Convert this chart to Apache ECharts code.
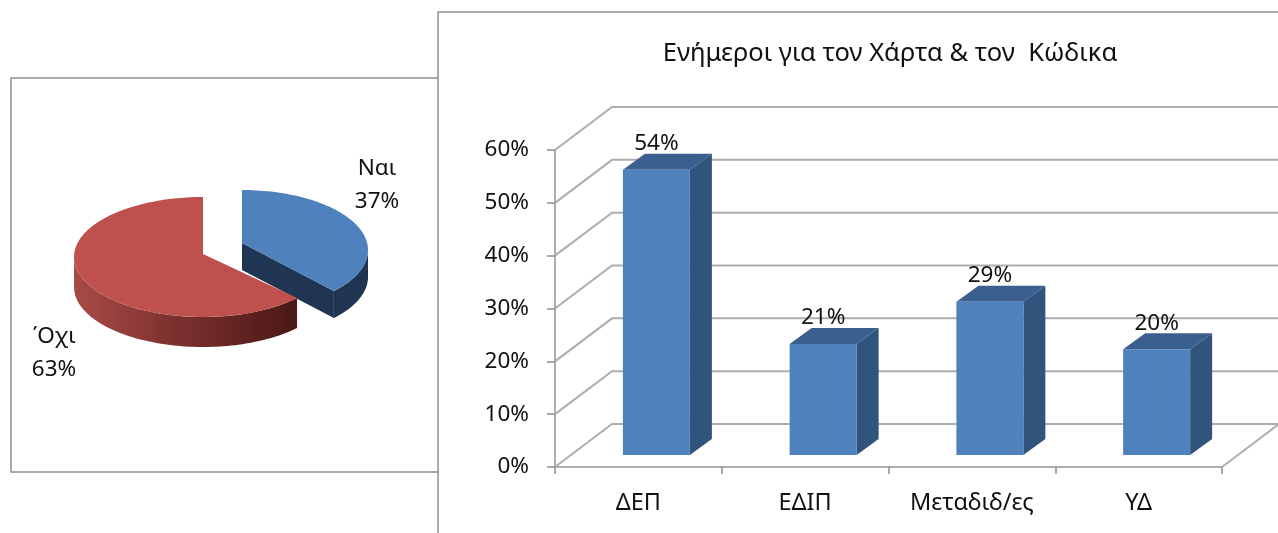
<!DOCTYPE html>
<html><head><meta charset="utf-8">
<style>html,body{margin:0;padding:0;background:#fff}#c{width:1278px;height:533px}</style>
<script src="https://cdn.jsdelivr.net/npm/echarts@6/dist/echarts.min.js"></script>
</head><body><div id="c"></div>
<script>
const chartTitle = 'Ενήμεροι για τον Χάρτα & τον  Κώδικα';
const categories = ['ΔΕΠ', 'ΕΔΙΠ', 'Μεταδιδ/ες', 'ΥΔ'];
const barValues = [54, 21, 29, 20];
const yTicks = [0, 10, 20, 30, 40, 50, 60];
const pieNames = ['Ναι', '΄Οχι'];
const pieValues = [37, 63];

const FONT = '"Noto Sans", "Open Sans", sans-serif';
const TXT = '#111';
const GRID = '#adadad';
// 3D projection of the bar plot
const WALL = [57, -43], FRONT = [18, -12], DEPTH = [22, -16], HALF = 33.5;
// Per-slice layout of the tilted pie
const SLICES = [
  {cx: 242, cy: 250, ax: 242, ay: 243, rx: 126, ry: 60, d: 27, top: '#4f81bd', side: '#1f3552', lx: 377, ly: 185},
  {cx: 203, cy: 257, ax: 203, ay: 254, rx: 129, ry: 60, d: 30, top: '#be504d',
   side: {type: 'linear', x: 0, y: 0, x2: 1, y2: 0, colorStops: [
     {offset: 0, color: '#a84a47'}, {offset: .45, color: '#7d312f'}, {offset: 1, color: '#4a1816'}]},
   lx: 54, ly: 353}
];

function arc(s, a0, a1, dy) {
  const pts = [], n = 80;
  for (let i = 0; i <= n; i++) {
    const t = (a0 + (a1 - a0) * i / n) * Math.PI / 180;
    pts.push([s.cx + s.rx * Math.sin(t), s.cy - s.ry * Math.cos(t) + dy]);
  }
  return pts;
}

function renderPie(params, api) {
  const i = params.dataIndex, s = SLICES[i];
  const total = pieValues.reduce((a, b) => a + b, 0);
  const before = pieValues.slice(0, i).reduce((a, b) => a + b, 0);
  const a0 = before / total * 360, a1 = (before + api.value(0)) / total * 360;
  const topPts = [[s.ax, s.ay]].concat(arc(s, a0, a1, 0));
  const children = [];
  if (i === 0) {
    const lo = arc(s, 90, a1, 0), hi = arc(s, 90, a1, s.d).reverse();
    children.push({type: 'polygon', shape: {points: lo.concat(hi)}, style: {fill: s.side}});
    const e = arc(s, a1, a1, 0)[0];
    children.push({type: 'polygon', shape: {points: [[s.ax, s.ay], e, [e[0], e[1] + s.d], [s.ax, s.ay + s.d]]}, style: {fill: s.side}});
  } else {
    const lo = arc(s, a0, 270, 0), hi = arc(s, a0, 270, s.d).reverse();
    children.push({type: 'polygon', shape: {points: lo.concat(hi)}, style: {fill: s.side}});
  }
  children.push({type: 'polygon', shape: {points: topPts}, style: {fill: s.top}});
  children.push({type: 'text', style: {
    x: s.lx, y: s.ly, text: pieNames[i] + '\n' + api.value(0) + '%',
    align: 'center', verticalAlign: 'middle', fill: TXT, font: '22.5px ' + FONT, lineHeight: 33
  }});
  return {type: 'group', children};
}

function renderWall(params, api) {
  const y = api.coord([0, api.value(1)])[1];
  const r = params.coordSys, x0 = r.x, x1 = r.x + r.width;
  const line = pts => ({type: 'polyline', shape: {points: pts}, style: {stroke: GRID, lineWidth: 2, fill: 'none'}});
  const children = [line([[x0, y], [x0 + WALL[0], y + WALL[1]], [x1 + WALL[0], y + WALL[1]]])];
  if (api.value(1) === yTicks[0]) children.push(line([[x1, y], [x1 + WALL[0], y + WALL[1]]]));
  return {type: 'group', children};
}

function renderBar(params, api) {
  const base = api.coord([api.value(0), 0]), tip = api.coord([api.value(0), api.value(1)]);
  const xl = base[0] + FRONT[0] - HALF, xr = base[0] + FRONT[0] + HALF;
  const yb = base[1] + FRONT[1], yt = tip[1] + FRONT[1];
  const [dx, dy] = DEPTH;
  return {type: 'group', children: [
    {type: 'polygon', shape: {points: [[xr, yt], [xr + dx, yt + dy], [xr + dx, yb + dy], [xr, yb]]}, style: {fill: '#31547c'}},
    {type: 'polygon', shape: {points: [[xl, yt], [xl + dx, yt + dy], [xr + dx, yt + dy], [xr, yt]]}, style: {fill: '#3b608f'}},
    {type: 'rect', shape: {x: xl, y: yt, width: xr - xl, height: yb - yt}, style: {fill: '#4f81bd'}},
    {type: 'text', style: {x: (xl + xr) / 2, y: yt - 26, text: api.value(1) + '%', align: 'center', verticalAlign: 'middle', fill: TXT, font: '22.5px ' + FONT}}
  ]};
}

const chart = echarts.init(document.getElementById('c'), null, {renderer: 'canvas'});
chart.setOption({
  animation: false,
  backgroundColor: '#fff',
  title: {
    text: chartTitle, left: 885, top: 36, textAlign: 'center',
    textStyle: {fontFamily: FONT, fontSize: 25.5, fontWeight: 'normal', color: TXT}
  },
  graphic: [
    {type: 'rect', z: -2, shape: {x: 11, y: 78, width: 500, height: 394}, style: {fill: '#fff', stroke: '#8f8f8f', lineWidth: 1.5}},
    {type: 'rect', z: -1, shape: {x: 438, y: 12, width: 900, height: 600}, style: {fill: '#fff', stroke: '#8f8f8f', lineWidth: 1.5}}
  ],
  grid: {left: 555, right: 56, top: 150, bottom: 66},
  xAxis: {
    type: 'category', data: categories,
    axisLine: {lineStyle: {color: GRID, width: 2}},
    axisTick: {show: true, length: 7, lineStyle: {color: '#8c8c8c', width: 1.5}},
    axisLabel: {fontFamily: FONT, fontSize: 23.5, color: TXT, margin: 24}
  },
  yAxis: {
    type: 'value', min: 0, max: 60, interval: 10,
    axisLine: {show: true, lineStyle: {color: GRID, width: 2}},
    axisTick: {show: true, length: 8, lineStyle: {color: '#8c8c8c', width: 1.5}},
    splitLine: {show: false},
    axisLabel: {formatter: '{value}%', fontFamily: FONT, fontSize: 22.5, color: TXT, margin: 26, padding: [8, 0, 0, 0]}
  },
  series: [
    {type: 'custom', coordinateSystem: 'cartesian2d', z: 1, silent: true, renderItem: renderWall,
     data: yTicks.map(v => [0, v]), encode: {x: 0, y: 1}},
    {type: 'custom', coordinateSystem: 'cartesian2d', z: 3, silent: true, renderItem: renderBar,
     data: barValues.map((v, i) => [i, v]), encode: {x: 0, y: 1}},
    {type: 'custom', coordinateSystem: 'none', z: 3, silent: true, renderItem: renderPie, data: pieValues}
  ]
});
</script></body></html>
